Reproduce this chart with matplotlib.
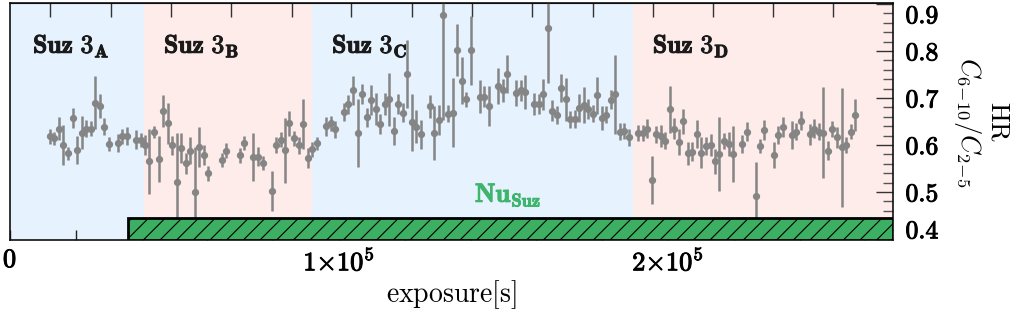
import matplotlib
matplotlib.use('Agg')
import matplotlib.pyplot as plt
import matplotlib.transforms as mtransforms
import matplotlib.patheffects as pe
from matplotlib.patches import Rectangle
from matplotlib.ticker import MultipleLocator
import numpy as np

plt.rcParams['mathtext.fontset'] = 'cm'
plt.rcParams['font.family'] = 'serif'
plt.rcParams['font.serif'] = ['cmr10', 'DejaVu Serif']
plt.rcParams['axes.formatter.use_mathtext'] = True
plt.rcParams['hatch.linewidth'] = 0.8

# ---------------- data ----------------
time = [12160, 13470, 14990, 16210, 17630, 19040, 20360, 21780, 23100, 24510,
        25930, 27250, 28570, 29980, 32720, 34140, 35460, 38190, 39710, 41030,
        42340, 43760, 45180, 46500, 47920, 49330, 50650, 52070, 53390, 54800,
        56120, 57540, 58860, 60270, 64320, 65740, 69900, 71210, 73950, 75370,
        76790, 79520, 80840, 82260, 83580, 84900, 86310, 87730, 89150, 90460,
        91880, 93200, 96030, 97450, 98860, 101500, 102820, 104140, 105660, 106970,
        108390, 109710, 111130, 112440, 113860, 115280, 116700, 118010, 119330, 120750,
        122170, 123480, 124800, 127640, 128960, 130370, 131690, 133110, 134530, 135950,
        137360, 138680, 140000, 142830, 144150, 145570, 148300, 149720, 151140, 153770,
        155190, 156610, 159350, 160660, 162080, 163400, 164820, 166130, 167550, 168870,
        170290, 171600, 173020, 174440, 175760, 177070, 178490, 179810, 181230, 182650,
        183960, 185380, 186700, 188120, 190950, 192270, 193690, 195000, 196420, 197740,
        199160, 200570, 201890, 203310, 204630, 206040, 207360, 208780, 210100, 211510,
        212930, 214250, 215570, 216990, 218400, 219820, 222560, 223870, 226610, 227930,
        229340, 232080, 233500, 234820, 237550, 238970, 240390, 243120, 244440, 245860,
        247270, 248690, 250010, 251430, 252750, 254160, 255580, 256900]

hr = [0.619, 0.614, 0.635, 0.600, 0.582, 0.657, 0.589, 0.626, 0.635, 0.635,
      0.690, 0.683, 0.639, 0.602, 0.604, 0.619, 0.619, 0.611, 0.611, 0.600,
      0.565, 0.628, 0.570, 0.672, 0.646, 0.599, 0.522, 0.593, 0.561, 0.588,
      0.501, 0.596, 0.578, 0.540, 0.568, 0.588, 0.578, 0.604, 0.575, 0.575,
      0.562, 0.502, 0.600, 0.611, 0.589, 0.646, 0.614, 0.599, 0.645, 0.572,
      0.591, 0.604, 0.640, 0.646, 0.633, 0.671, 0.687, 0.716, 0.626, 0.708,
      0.659, 0.696, 0.676, 0.645, 0.687, 0.697, 0.630, 0.687, 0.669, 0.751,
      0.648, 0.639, 0.623, 0.682, 0.626, 0.653, 0.877, 0.667, 0.669, 0.802,
      0.737, 0.697, 0.801, 0.703, 0.703, 0.683, 0.726, 0.716, 0.751, 0.711,
      0.716, 0.713, 0.687, 0.687, 0.708, 0.848, 0.673, 0.664, 0.721, 0.697,
      0.655, 0.655, 0.678, 0.685, 0.676, 0.667, 0.706, 0.657, 0.664, 0.696,
      0.708, 0.628, 0.630, 0.616, 0.626, 0.626, 0.635, 0.526, 0.623, 0.619,
      0.609, 0.676, 0.635, 0.607, 0.650, 0.582, 0.586, 0.623, 0.584, 0.598,
      0.600, 0.565, 0.581, 0.609, 0.602, 0.581, 0.602, 0.628, 0.491, 0.598,
      0.632, 0.579, 0.621, 0.638, 0.621, 0.628, 0.652, 0.623, 0.635, 0.628,
      0.626, 0.588, 0.633, 0.616, 0.595, 0.600, 0.628, 0.664]

hr_err = [0.016, 0.014, 0.024, 0.043, 0.014, 0.021, 0.030, 0.035, 0.019, 0.016,
          0.057, 0.026, 0.018, 0.015, 0.019, 0.016, 0.020, 0.020, 0.015, 0.021,
          0.069, 0.013, 0.049, 0.034, 0.043, 0.021, 0.104, 0.032, 0.023, 0.028,
          0.094, 0.043, 0.021, 0.016, 0.015, 0.016, 0.016, 0.015, 0.051, 0.020,
          0.015, 0.043, 0.016, 0.016, 0.069, 0.027, 0.016, 0.018, 0.053, 0.021,
          0.016, 0.014, 0.020, 0.016, 0.018, 0.019, 0.020, 0.031, 0.072, 0.021,
          0.020, 0.032, 0.034, 0.022, 0.023, 0.057, 0.030, 0.021, 0.021, 0.073,
          0.061, 0.035, 0.031, 0.024, 0.058, 0.032, 0.223, 0.019, 0.074, 0.055,
          0.050, 0.016, 0.073, 0.035, 0.022, 0.043, 0.038, 0.025, 0.041, 0.027,
          0.023, 0.036, 0.023, 0.022, 0.033, 0.116, 0.022, 0.020, 0.029, 0.045,
          0.018, 0.019, 0.030, 0.038, 0.021, 0.018, 0.039, 0.025, 0.018, 0.020,
          0.084, 0.018, 0.017, 0.018, 0.017, 0.017, 0.020, 0.051, 0.018, 0.024,
          0.018, 0.050, 0.022, 0.028, 0.027, 0.025, 0.020, 0.030, 0.032, 0.020,
          0.023, 0.027, 0.079, 0.017, 0.026, 0.060, 0.020, 0.020, 0.072, 0.014,
          0.021, 0.028, 0.019, 0.021, 0.030, 0.018, 0.020, 0.022, 0.020, 0.018,
          0.097, 0.020, 0.017, 0.022, 0.127, 0.018, 0.016, 0.034]

seg_labels = ['A', 'B', 'C', 'D']
seg_edges = [0, 40730, 91790, 189500, 268400]
seg_label_x = [7000, 46800, 97900, 195400]
seg_colors = ['#e6f2fd', '#fdecea', '#e6f2fd', '#fdecea']

nu_start, nu_end = 35780, 268400
nu_top = 0.445

x_tick_vals = [0, 100000, 200000]
x_tick_text = [r'$\mathbf{0}$', r'$\mathbf{1{\times}10^{5}}$', r'$\mathbf{2{\times}10^{5}}$']
top_ticks = [12160, 30700, 48940, 67180, 85710, 103650, 122200, 140440,
             158680, 177220, 195460, 213700, 231940, 250180]
y_ticks = [0.4, 0.5, 0.6, 0.7, 0.8, 0.9]

# ---------------- figure ----------------
W, H = 1011, 311
fig = plt.figure(figsize=(W / 100, H / 100), dpi=100)
ax = fig.add_axes([10 / W, 71 / H, 883 / W, 237 / H])
ax.set_xlim(seg_edges[0], seg_edges[-1])
ax.set_ylim(0.398, 0.902)


def heavy(color):
    return [pe.withStroke(linewidth=0.7, foreground=color)]


for i in range(len(seg_labels)):
    ax.axvspan(seg_edges[i], seg_edges[i + 1], color=seg_colors[i], lw=0, zorder=0)
    ax.text(seg_label_x[i], 0.796, r'$\mathbf{Suz\ 3_{%s}}$' % seg_labels[i],
            fontsize=18.5, color='#1a1a1a', ha='left', va='baseline', zorder=5,
            path_effects=heavy('#1a1a1a'))

ax.errorbar(time, hr, yerr=hr_err, fmt='o', color='#858585', ms=4.2,
            elinewidth=1.8, capsize=0, zorder=2)

rect = Rectangle((nu_start, 0.398), nu_end - nu_start, nu_top - 0.398,
                 facecolor='#3caf63', edgecolor='black', hatch='//', lw=2,
                 zorder=3)
ax.add_patch(rect)
ax.text(141300, 0.479, r'$\mathbf{Nu_{Suz}}$', color='#3db56c', fontsize=19,
        ha='left', va='baseline', zorder=5, path_effects=heavy('#3db56c'))

# x axis
minor_x = list(range(0, 268400, 20000))
ax.set_xticks(minor_x)
ax.set_xticklabels([x_tick_text[x_tick_vals.index(v)] if v in x_tick_vals else ''
                    for v in minor_x])
ax.tick_params(axis='x', direction='in', length=7, width=1, color='#222222',
               labelsize=19, pad=6, top=False)
ax.set_xlabel(r'$\mathrm{exposure[s]}$', fontsize=20, labelpad=2)

sec = ax.secondary_xaxis('top')
sec.set_xticks(top_ticks)
sec.set_xticklabels([''] * len(top_ticks))
sec.tick_params(direction='in', length=10, width=1, color='#333333')

# y axis
ax.yaxis.tick_right()
ax.set_yticks(y_ticks)
ax.set_yticklabels([r'$\mathbf{%.1f}$' % v for v in y_ticks])
ax.yaxis.set_minor_locator(MultipleLocator(0.02))
ax.tick_params(axis='y', which='major', direction='in', length=12, width=1,
               color='#333333', labelsize=18.5, pad=9, left=False)
ax.tick_params(axis='y', which='minor', direction='in', length=7, width=1,
               color='#555555', left=False)
ticks = ax.yaxis.get_major_ticks()
for t, v in zip(ticks, y_ticks):
    t.label2.set_path_effects(heavy('black'))
    if abs(v - 0.9) < 1e-6:
        t.label2.set_transform(t.label2.get_transform() +
                               mtransforms.ScaledTranslation(0, -0.10, fig.dpi_scale_trans))
    if abs(v - 0.4) < 1e-6:
        t.label2.set_transform(t.label2.get_transform() +
                               mtransforms.ScaledTranslation(0, 0.10, fig.dpi_scale_trans))
for lab in ax.get_xticklabels():
    lab.set_path_effects(heavy('black'))

for s in ax.spines.values():
    s.set_linewidth(1.2)
    s.set_color('#111111')

fig.text(998 / W, 1 - 122 / H, r'$\mathrm{HR}$', rotation=270, fontsize=19,
         ha='center', va='center')
fig.text(967 / W, 1 - 122 / H, r'$C_{6\!-\!10}/C_{2\!-\!5}$', rotation=270,
         fontsize=19, ha='center', va='center')

fig.savefig('out.png', dpi=100)
